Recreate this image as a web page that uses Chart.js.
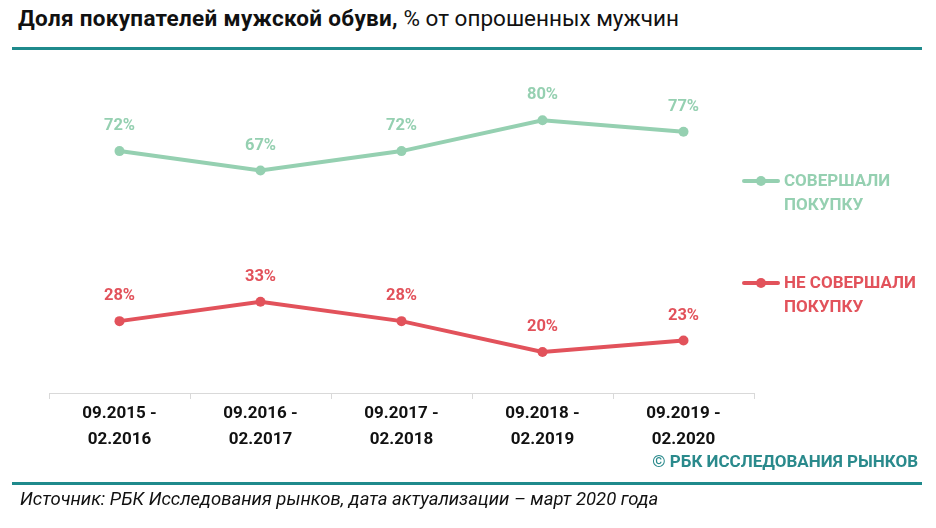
<!DOCTYPE html>
<html lang="ru">
<head>
<meta charset="utf-8">
<script src="https://cdn.jsdelivr.net/npm/chart.js@4/dist/chart.umd.min.js"></script>
<style>
    html, body { margin: 0; padding: 0; background: #fff; }
    body { width: 936px; height: 528px; position: relative; overflow: hidden; font-family: Roboto, "Open Sans", sans-serif; }
    #title { position: absolute; left: 18px; top: 5px; font-size: 22.5px; color: #111; white-space: nowrap; }
    #title b { font-weight: 700; letter-spacing: 0.3px; }
    .rule { position: absolute; left: 12px; width: 910px; height: 3px; background: #1f8a8c; }
    #chartWrap { position: absolute; left: 0; top: 0; width: 936px; height: 528px; }
    .legend { position: absolute; left: 742px; font-size: 17px; font-weight: 700; line-height: 24px; }
    .legend .mark { position: absolute; left: 0; top: 11px; width: 38px; height: 4px; border-radius: 2px; }
    .legend .mark::after { content: ""; position: absolute; left: 14px; top: -3px; width: 10px; height: 10px; border-radius: 50%; background: inherit; }
    .legend .txt { margin-left: 42px; }
    #brand { position: absolute; right: 18px; top: 451px; font-size: 17px; font-weight: 700; color: #2a8a8c; }
    #source { position: absolute; left: 20px; top: 488px; font-size: 18.5px; font-style: italic; color: #111; }
</style>
</head>
<body>
<div id="title"><b>Доля покупателей мужской обуви,</b> % от опрошенных мужчин</div>
<div class="rule" style="top:47px"></div>
<div id="chartWrap"><canvas id="shoesChart" width="936" height="528"></canvas></div>
<div class="legend" style="top:168px; color:#95d0b1"><span class="mark" style="background:#95d0b1"></span><div class="txt">СОВЕРШАЛИ<br>ПОКУПКУ</div></div>
<div class="legend" style="top:270px; color:#e2525b"><span class="mark" style="background:#e2525b"></span><div class="txt">НЕ СОВЕРШАЛИ<br>ПОКУПКУ</div></div>
<div id="brand">© РБК ИССЛЕДОВАНИЯ РЫНКОВ</div>
<div class="rule" style="top:482px"></div>
<div id="source">Источник: РБК Исследования рынков, дата актуализации – март 2020 года</div>

<script>
// Periods (two-line tick labels)
const periods = [
    ['09.2015 -', '02.2016'],
    ['09.2016 -', '02.2017'],
    ['09.2017 -', '02.2018'],
    ['09.2018 -', '02.2019'],
    ['09.2019 -', '02.2020']
];

// Share of respondents, %
const boughtValues = [72, 67, 72, 80, 77];
const notBoughtValues = [28, 33, 28, 20, 23];

const seriesNames = ['СОВЕРШАЛИ ПОКУПКУ', 'НЕ СОВЕРШАЛИ ПОКУПКУ'];
const greenColor = '#95d0b1';
const redColor = '#e2525b';

// Draw "NN%" above every point
const valueLabels = {
    id: 'valueLabels',
    afterDatasetsDraw(chart) {
        const ctx = chart.ctx;
        ctx.save();
        ctx.font = 'bold 16.5px Roboto, sans-serif';
        ctx.textAlign = 'center';
        ctx.textBaseline = 'middle';
        chart.data.datasets.forEach((ds, i) => {
            const meta = chart.getDatasetMeta(i);
            ctx.fillStyle = ds.borderColor;
            meta.data.forEach((pt, j) => {
                ctx.fillText(ds.data[j] + '%', pt.x, pt.y - 25);
            });
        });
        ctx.restore();
    }
};

const ctx = document.getElementById('shoesChart');
new Chart(ctx, {
    type: 'line',
    data: {
        labels: periods,
        datasets: [{
            label: seriesNames[0],
            data: boughtValues,
            borderColor: greenColor,
            backgroundColor: greenColor,
            borderWidth: 4,
            pointRadius: 5,
            pointHoverRadius: 5,
            pointBorderWidth: 0,
            tension: 0
        }, {
            label: seriesNames[1],
            data: notBoughtValues,
            borderColor: redColor,
            backgroundColor: redColor,
            borderWidth: 4,
            pointRadius: 5,
            pointHoverRadius: 5,
            pointBorderWidth: 0,
            tension: 0
        }]
    },
    options: {
        responsive: false,
        animation: false,
        layout: {
            padding: { left: 49, right: 182, top: 80, bottom: 75 }
        },
        plugins: {
            legend: { display: false },
            tooltip: { enabled: false }
        },
        scales: {
            x: {
                offset: true,
                afterFit(scale) { scale.height = 60; },
                grid: {
                    offset: true,
                    drawOnChartArea: false,
                    drawTicks: true,
                    tickLength: 6,
                    color: '#d9d9d9'
                },
                border: { color: '#d9d9d9', width: 1 },
                ticks: {
                    color: '#111',
                    padding: 2,
                    maxRotation: 0,
                    font: { family: 'Roboto, sans-serif', size: 17, weight: 'bold', lineHeight: 1.5 }
                }
            },
            y: {
                display: false,
                min: 9.4,
                max: 90.4
            }
        }
    },
    plugins: [valueLabels]
});
</script>
</body>
</html>
